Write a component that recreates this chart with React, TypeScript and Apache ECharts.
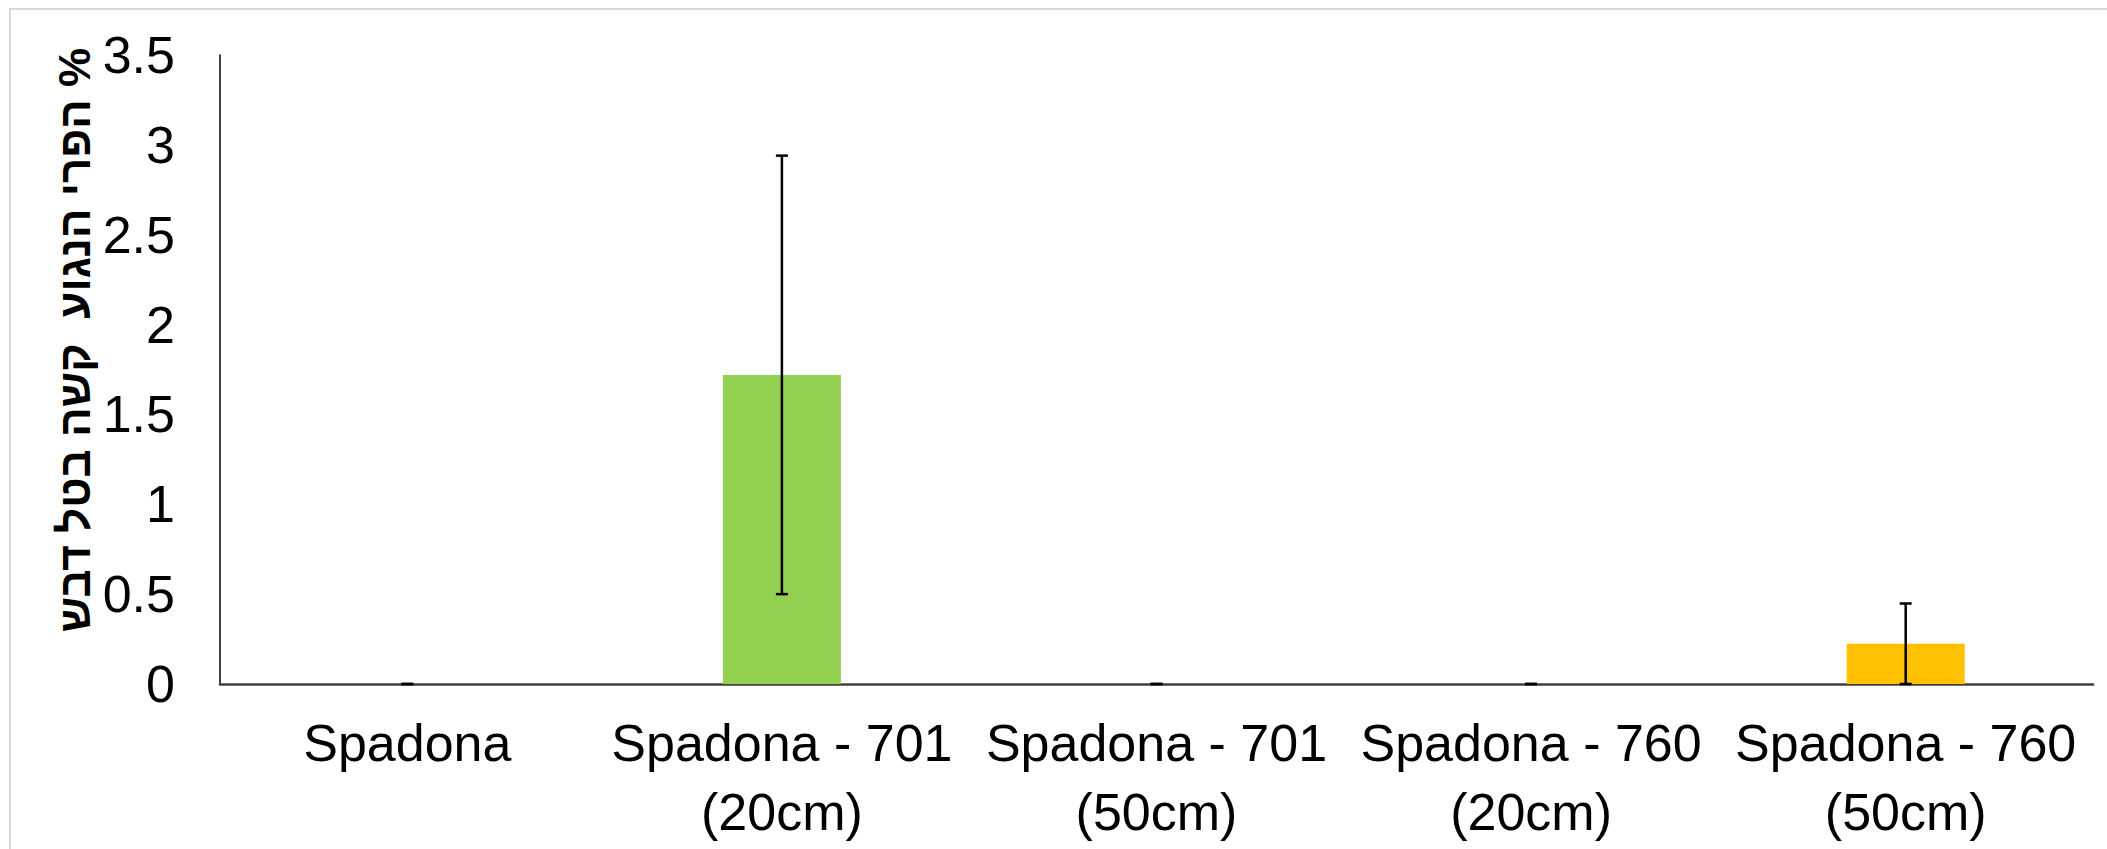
import React, { useEffect, useRef } from "react";
import * as echarts from "echarts";

const categories = [
  "Spadona",
  "Spadona - 701\n(20cm)",
  "Spadona - 701\n(50cm)",
  "Spadona - 760\n(20cm)",
  "Spadona - 760\n(50cm)",
];
const values = [0, 1.72, 0, 0, 0.224];
const errors = [0, 1.22, 0, 0, 0.224];
const barColors = ["#92D050", "#92D050", "#92D050", "#FFC000", "#FFC000"];
const yTitle = "\u200F% הפרי הנגוע  קשה בטל דבש";

export default function App() {
  const ref = useRef<HTMLDivElement>(null);
  useEffect(() => {
    if (!ref.current) return;
    const chart = echarts.init(ref.current, null, { renderer: "svg" });
    const font = "'Liberation Sans', Arial, sans-serif";
    const errData = values.map((v, i) => [i, v - errors[i], v + errors[i]]);
    chart.setOption({
      animation: false,
      backgroundColor: "#ffffff",
      grid: { left: 220, right: 14, top: 55, bottom: 165, containLabel: false },
      xAxis: {
        type: "category",
        data: categories,
        axisLine: { show: true, lineStyle: { color: "#404040", width: 2.5 } },
        axisTick: { show: false },
        axisLabel: {
          color: "#000",
          fontSize: 52,
          fontFamily: font,
          lineHeight: 69,
          margin: 24,
          interval: 0,
        },
      },
      yAxis: {
        type: "value",
        min: 0,
        max: 3.5,
        interval: 0.5,
        splitLine: { show: false },
        axisLine: { show: true, lineStyle: { color: "#000", width: 1.5 } },
        axisTick: { show: false },
        axisLabel: {
          color: "#000",
          fontSize: 52,
          fontFamily: font,
          margin: 45,
        },
      },
      graphic: [
        {
          type: "rect",
          shape: { x: 10, y: 9, width: 2300, height: 1000 },
          style: { fill: "none", stroke: "#d9d9d9", lineWidth: 2 },
          silent: true,
          z: -10,
        },
        {
          type: "text",
          x: 74,
          y: 340,
          rotation: Math.PI / 2,
          style: {
            text: yTitle,
            font: "bold 44px 'Liberation Sans', Arial, sans-serif",
            fill: "#000",
            align: "center",
            verticalAlign: "middle",
          },
        },
      ],
      series: [
        {
          type: "bar",
          data: values.map((v, i) => ({ value: v, itemStyle: { color: barColors[i] } })),
          barWidth: "31.5%",
          z: 2,
        },
        {
          type: "custom",
          data: errData,
          z: 3,
          renderItem: (params: any, api: any) => {
            const x = api.value(0);
            const lo = api.coord([x, api.value(1)]);
            const hi = api.coord([x, api.value(2)]);
            const cap = 6;
            const st = { stroke: "#000", lineWidth: 2.5 };
            return {
              type: "group",
              children: [
                { type: "line", shape: { x1: lo[0], y1: lo[1], x2: hi[0], y2: hi[1] }, style: st },
                { type: "line", shape: { x1: lo[0] - cap, y1: lo[1], x2: lo[0] + cap, y2: lo[1] }, style: st },
                { type: "line", shape: { x1: hi[0] - cap, y1: hi[1], x2: hi[0] + cap, y2: hi[1] }, style: st },
              ],
            };
          },
        },
      ],
    });
    return () => chart.dispose();
  }, []);
  return (
    <div
      ref={ref}
      style={{ position: "fixed", left: 0, top: 0, width: 2107, height: 849 }}
    />
  );
}
